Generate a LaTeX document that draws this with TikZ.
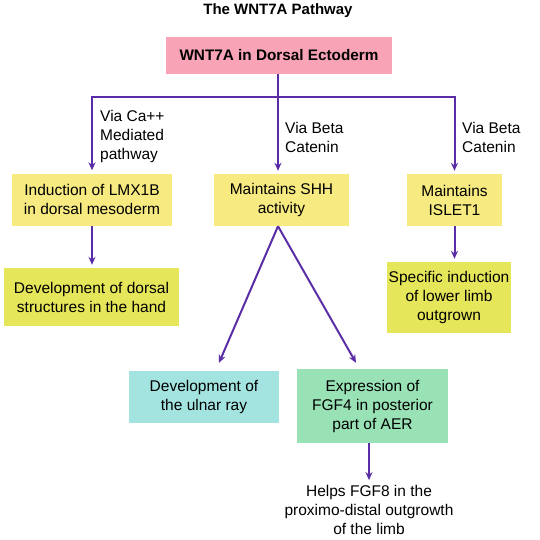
\documentclass[tikz,border=0pt]{standalone}
\usepackage{fontspec}
\setmainfont{Liberation Sans}
\usepackage{tikz}
\usetikzlibrary{arrows.meta,calc}
\definecolor{wntpurple}{HTML}{5A2CA6}
\definecolor{wntpink}{HTML}{F9A3B6}
\definecolor{wntyellow}{HTML}{F7EA80}
\definecolor{wntlime}{HTML}{E6E65A}
\definecolor{wntcyan}{HTML}{A3E4E0}
\definecolor{wntgreen}{HTML}{98E2B6}
\tikzset{
  box/.style        = {draw=none, inner sep=2pt, align=center, text=black},
  path/.style       = {draw=wntpurple, line width=2pt},
  arr/.style        = {path, -{Stealth[length=8pt, width=7pt]}, shorten >=3pt},
  lbl/.style        = {align=left, inner sep=0pt, anchor=west},
  every node/.style = {font=\fontsize{15.5}{19}\selectfont},
}
\begin{document}
\begin{tikzpicture}[x=1pt,y=-1pt]
  \useasboundingbox (0,0) rectangle (540,539);
  % title
  \node[font=\fontsize{15}{19}\selectfont\bfseries] (title) at (278,11) {The WNT7A Pathway};
  % top box
  \node[box, fill=wntpink, minimum width=226pt, minimum height=37pt, font=\fontsize{15.3}{19}\selectfont\bfseries] (wnt) at (279,55.5) {WNT7A in Dorsal Ectoderm};
  % first row
  \node[box, fill=wntyellow, minimum width=160pt, minimum height=52pt] (lmx) at (92,199.5) {Induction of LMX1B\\in dorsal mesoderm};
  \node[box, fill=wntyellow, minimum width=135pt, minimum height=52pt] (shh) at (281.5,200) {Maintains SHH\\activity};
  \node[box, fill=wntyellow, minimum width=95pt, minimum height=52pt] (islet) at (454.5,200) {Maintains\\ISLET1};
  % second row
  \node[box, fill=wntlime, minimum width=175pt, minimum height=58pt] (dorsal) at (91.5,297) {Development of dorsal\\structures in the hand};
  \node[box, fill=wntlime, minimum width=120pt, minimum height=71pt] (limb) at (449,297.5) {Specific induction\\of lower limb\\outgrown};
  % third row
  \node[box, fill=wntcyan, minimum width=150pt, minimum height=52pt] (ulnar) at (204,397) {Development of\\the ulnar ray};
  \node[box, fill=wntgreen, minimum width=151pt, minimum height=74pt] (fgf) at (372.5,406) {Expression of\\FGF4 in posterior\\part of AER};
  \node[align=center, inner sep=2pt] (helps) at (369,510) {Helps FGF8 in the\\proximo-distal outgrowth\\of the limb};
  % branches
  \coordinate (split) at (278,97);
  \draw[path] (wnt.south -| split) -- (split);
  \draw[path] (split -| lmx.north) -- (split -| islet.north);
  \draw[arr] (split) -| (lmx.north);
  \draw[arr] (split) -- (split |- shh.north);
  \draw[arr] (split) -| (islet.north);
  \node[lbl] (lcal) at (100,136) {Via Ca++\\Mediated\\pathway};
  \node[lbl] (lbeta) at (285,137.5) {Via Beta\\Catenin};
  \node[lbl] (rbeta) at (462,137.5) {Via Beta\\Catenin};
  \draw[arr] (lmx.south) -- (lmx.south |- dorsal.north);
  \draw[arr] (islet.south) -- (islet.south |- limb.north);
  \draw[arr, shorten >=0pt] ([xshift=-3.5pt]shh.south) -- ([xshift=15pt,yshift=8pt]ulnar.north);
  \draw[arr, shorten >=0pt] ([xshift=-3.5pt]shh.south) -- ([xshift=-16.5pt,yshift=6pt]fgf.north);
  \draw[arr] ([xshift=-3.5pt]fgf.south) -- ([xshift=-3.5pt]fgf.south |- helps.north);
\end{tikzpicture}
\end{document}
